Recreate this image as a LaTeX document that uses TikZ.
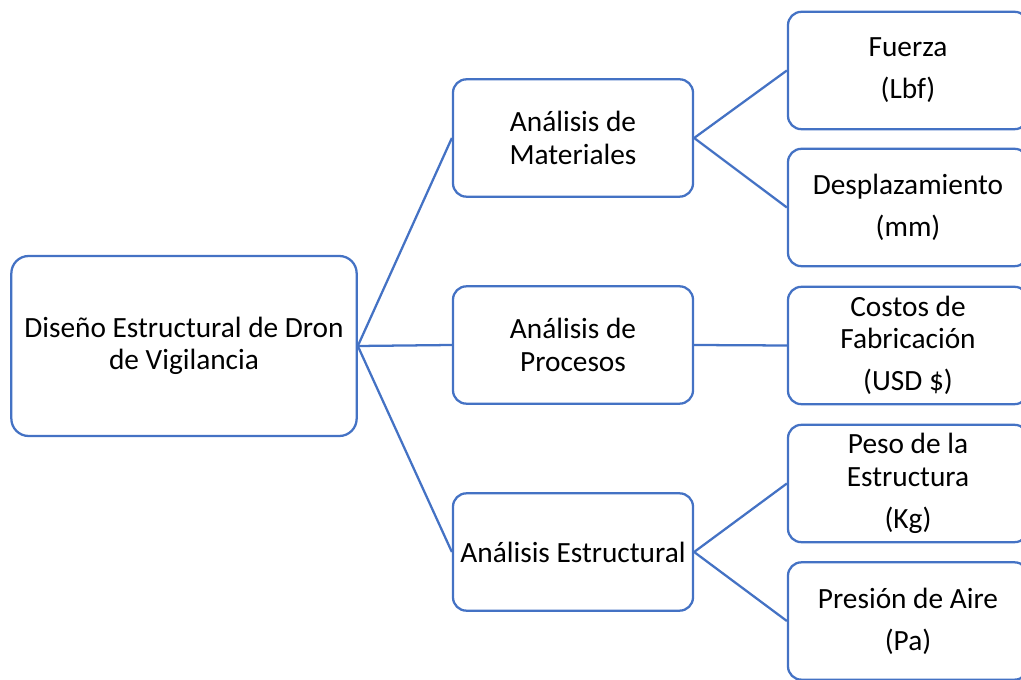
\documentclass[tikz,border=0pt]{standalone}
\usepackage{fontspec}
\setmainfont{Carlito}
\definecolor{smartblue}{HTML}{4472C4}
\tikzset{
    box/.style={draw=smartblue, line width=1.7pt, rounded corners=10pt, align=center, inner sep=0pt,
        minimum width=180pt, minimum height=88pt, font=\fontsize{22}{24.5}\selectfont},
    link/.style={draw=smartblue, line width=1.7pt}
}
\begin{document}
\begin{tikzpicture}[x=0.75pt, y=-0.75pt]
        \useasboundingbox (0,0) rectangle (1021,680);
        \clip (0,0) rectangle (1021,680);
        \node[box, rounded corners=13pt, minimum width=259pt, minimum height=135pt] (diseno) at (184,346) {Diseño Estructural de Dron\\de Vigilancia};
        \node[box] (materiales) at (573,138) {Análisis de\\Materiales};
        \node[box] (procesos) at (573,345) {Análisis de\\Procesos};
        \node[box] (estructural) at (573,552) {Análisis Estructural};
        \node[box] (fuerza) at (908,70.5) {Fuerza\\[7pt](Lbf)};
        \node[box] (desplazamiento) at (908,207.5) {Desplazamiento\\[7pt](mm)};
        \node[box] (costos) at (908,345.5) {Costos de\\Fabricación\\[7pt](USD \$)};
        \node[box] (peso) at (908,483.5) {Peso de la\\Estructura\\[7pt](Kg)};
        \node[box] (presion) at (908,621) {Presión de Aire\\[7pt](Pa)};
        \foreach \mid in {materiales,procesos,estructural} {
                \draw[link] (diseno.east) -- (\mid.west);
            }
        \foreach \mid/\leaf in {materiales/fuerza,materiales/desplazamiento,procesos/costos,estructural/peso,estructural/presion} {
                \draw[link] (\mid.east) -- (\leaf.west);
            }
    \end{tikzpicture}
\end{document}
